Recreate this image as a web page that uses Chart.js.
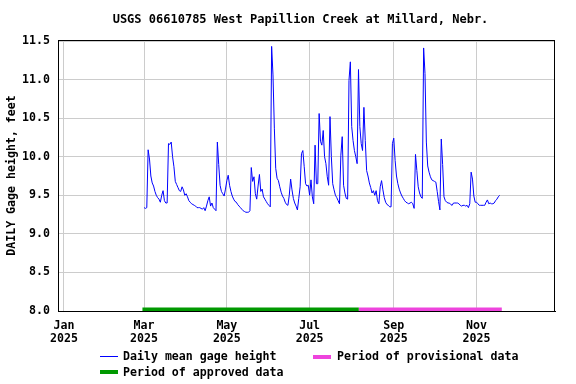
<html>
  <head>
    <style>
      body { margin: 0; background: #fff; }
      #wrap { position: relative; width: 576px; height: 384px; }
      .leg { position: absolute; font: bold 11.6px "DejaVu Sans Mono", monospace; color: #000; white-space: pre; line-height: 14px; }
      .sw { position: absolute; }
    </style>
  </head>
  <body>
    <script src="https://cdn.jsdelivr.net/npm/chart.js@4/dist/chart.umd.min.js"></script>
    <div id="wrap">
      <canvas id="myChart" width="576" height="384"></canvas>
      <div class="sw" style="left:100px;top:356px;width:18px;height:1px;background:#0000ff"></div>
      <div class="leg" style="left:123px;top:349px">Daily mean gage height</div>
      <div class="sw" style="left:313px;top:355px;width:18px;height:4px;background:#ee44dd"></div>
      <div class="leg" style="left:337px;top:349px">Period of provisional data</div>
      <div class="sw" style="left:100px;top:370px;width:18px;height:4px;background:#009900"></div>
      <div class="leg" style="left:123px;top:365px">Period of approved data</div>
    </div>

    <script>
      // gage height, daily mean, feet -- first value is Mar 1 2025 (day 59 of year)
      let startDay = 59;
      let gageHeight = [
        9.34, 9.33, 9.34, 10.09, 9.97, 9.75, 9.66, 9.62, 9.55, 9.50,
        9.47, 9.45, 9.41, 9.50, 9.56, 9.43, 9.40, 9.40, 10.17, 10.16,
        10.19, 10.00, 9.87, 9.68, 9.64, 9.60, 9.56, 9.55, 9.61, 9.57,
        9.50, 9.52, 9.48, 9.43, 9.41, 9.39, 9.38, 9.37, 9.36, 9.34,
        9.34, 9.34, 9.33, 9.32, 9.34, 9.30, 9.36, 9.43, 9.48, 9.36,
        9.40, 9.34, 9.32, 9.30, 10.19, 9.90, 9.63, 9.55, 9.52, 9.49,
        9.58, 9.69, 9.76, 9.63, 9.55, 9.49, 9.45, 9.42, 9.41, 9.38,
        9.36, 9.34, 9.32, 9.30, 9.29, 9.28, 9.28, 9.28, 9.30, 9.86,
        9.68, 9.74, 9.52, 9.45, 9.62, 9.77, 9.55, 9.58, 9.48, 9.45,
        9.42, 9.39, 9.37, 9.35, 11.43, 11.06, 10.37, 9.85, 9.72, 9.69,
        9.61, 9.54, 9.49, 9.46, 9.41, 9.38, 9.37, 9.50, 9.71, 9.57,
        9.46, 9.40, 9.36, 9.31, 9.46, 9.61, 10.04, 10.08, 9.87, 9.65,
        9.62, 9.63, 9.50, 9.70, 9.48, 9.39, 10.15, 9.65, 9.65, 10.56,
        10.20, 10.15, 10.34, 10.00, 9.91, 9.74, 9.63, 10.52, 10.00, 9.65,
        9.57, 9.50, 9.47, 9.43, 9.39, 10.02, 10.26, 9.63, 9.53, 9.46,
        9.45, 10.99, 11.23, 10.39, 10.21, 10.08, 10.00, 9.91, 11.13, 10.39,
        10.17, 10.08, 10.64, 10.21, 9.82, 9.75, 9.66, 9.60, 9.53, 9.56,
        9.50, 9.56, 9.43, 9.39, 9.61, 9.69, 9.57, 9.47, 9.41, 9.38,
        9.37, 9.35, 9.35, 10.17, 10.24, 9.95, 9.75, 9.65, 9.58, 9.53,
        9.49, 9.46, 9.43, 9.41, 9.40, 9.39, 9.40, 9.41, 9.39, 9.33,
        10.03, 9.82, 9.61, 9.53, 9.48, 9.46, 11.41, 11.08, 10.19, 9.88,
        9.80, 9.74, 9.70, 9.69, 9.68, 9.67, 9.55, 9.42, 9.31, 10.23,
        9.90, 9.48, 9.43, 9.41, 9.40, 9.40, 9.38, 9.37, 9.40, 9.40,
        9.40, 9.40, 9.39, 9.37, 9.36, 9.37, 9.37, 9.36, 9.37, 9.34,
        9.39, 9.80, 9.71, 9.49, 9.41, 9.41, 9.39, 9.37, 9.37, 9.37,
        9.37, 9.37, 9.41, 9.44, 9.39, 9.40, 9.39, 9.39, 9.40, 9.43,
        9.45, 9.48, 9.50
      ];

      // data status periods, in day of year
      let approvedPeriod = [57.8, 217.2];
      let provisionalPeriod = [217.2, 322.6];

      // x tick positions (day of year) and labels
      let monthDays = [0, 59, 120, 181, 243, 304];
      let monthNames = ['Jan', 'Mar', 'May', 'Jul', 'Sep', 'Nov'];
      let yearLabel = '2025';
      let yTicks = [8.0, 8.5, 9.0, 9.5, 10.0, 10.5, 11.0, 11.5];
      let titleText = 'USGS 06610785 West Papillion Creek at Millard, Nebr.';

      let font = { family: '"DejaVu Sans Mono", monospace', size: 11.6, weight: 'bold' };

      let points = gageHeight.map((v, i) => ({ x: startDay + i, y: v }));

      // 테두리 + 제목 (frame around plot, title)
      let framePlugin = {
        id: 'frame',
        afterDraw(chart) {
          let a = chart.chartArea;
          let ctx = chart.ctx;
          ctx.save();
          ctx.strokeStyle = '#000';
          ctx.lineWidth = 1;
          ctx.strokeRect(Math.round(a.left) + 0.5, Math.round(a.top) + 0.5,
            Math.round(a.right - a.left) - 1, Math.round(a.bottom - a.top));
          ctx.fillStyle = '#000';
          ctx.font = 'bold 12px "DejaVu Sans Mono", monospace';
          ctx.textAlign = 'center';
          ctx.textBaseline = 'middle';
          ctx.fillText(titleText, 300.5, 19.5);
          ctx.restore();
        }
      };

      let ctx = document.getElementById('myChart').getContext('2d');
      let myChart = new Chart(ctx, {
        type: 'line',
        data: {
          datasets: [
            {
              label: 'Daily mean gage height',
              data: points,
              borderColor: '#0000ff',
              borderWidth: 1,
              pointRadius: 0,
              tension: 0
            },
            {
              label: 'Period of approved data',
              data: [{ x: approvedPeriod[0], y: 8.02 }, { x: approvedPeriod[1], y: 8.02 }],
              borderColor: '#009900',
              borderWidth: 4,
              pointRadius: 0,
              clip: false
            },
            {
              label: 'Period of provisional data',
              data: [{ x: provisionalPeriod[0], y: 8.02 }, { x: provisionalPeriod[1], y: 8.02 }],
              borderColor: '#ee44dd',
              borderWidth: 4,
              pointRadius: 0,
              clip: false
            }
          ]
        },
        options: {
          responsive: false,
          animation: false,
          devicePixelRatio: 1,
          layout: { padding: { left: 0, right: 21, top: 40, bottom: 0 } },
          plugins: {
            legend: { display: false },
            tooltip: { enabled: false },
            title: { display: false }
          },
          scales: {
            x: {
              type: 'linear',
              min: -4.42,
              max: 361.8,
              afterFit(scale) { scale.height = 73; },
              afterBuildTicks(scale) { scale.ticks = monthDays.map(d => ({ value: d })); },
              grid: { color: '#cccccc', drawTicks: false },
              border: { color: '#000' },
              ticks: {
                autoSkip: false,
                maxRotation: 0,
                padding: 8,
                color: '#000',
                font: { family: font.family, size: font.size, weight: 'bold', lineHeight: 1.12 },
                callback: (v) => [monthNames[monthDays.indexOf(v)], yearLabel]
              }
            },
            y: {
              min: 8.0,
              max: 11.513,
              afterFit(scale) { scale.width = 58; },
              afterBuildTicks(scale) { scale.ticks = yTicks.map(v => ({ value: v })); },
              grid: { color: '#cccccc', drawTicks: false },
              border: { color: '#000' },
              ticks: {
                padding: 8,
                color: '#000',
                font: font,
                callback: (v) => v.toFixed(1)
              },
              title: {
                display: true,
                text: 'DAILY Gage height, feet',
                color: '#000',
                font: font,
                padding: { top: 5, bottom: 0 }
              }
            }
          }
        },
        plugins: [framePlugin]
      });
    </script>
  </body>
</html>
